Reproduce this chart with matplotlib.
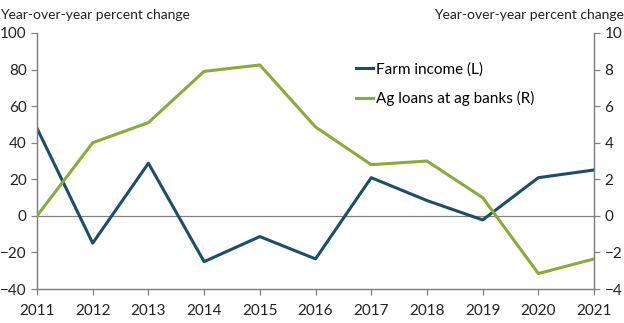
import matplotlib.pyplot as plt

years = [2011, 2012, 2013, 2014, 2015, 2016, 2017, 2018, 2019, 2020, 2021]
farm_income = [47.9, -14.9, 28.8, -25.0, -11.3, -23.5, 20.9, 8.4, -2.2, 20.9, 25.1]
ag_loans = [0.0, 4.0, 5.1, 7.9, 8.25, 4.86, 2.8, 3.0, 1.0, -3.15, -2.35]

left_ticks = [-40, -20, 0, 20, 40, 60, 80, 100]
right_ticks = [-4, -2, 0, 2, 4, 6, 8, 10]

BLUE = "#1d4e68"
GREEN = "#8aab3c"
GRAY = "#808080"

plt.rcParams["font.family"] = ["Lato", "DejaVu Sans"]
plt.rcParams["font.size"] = 10.5

fig = plt.figure(figsize=(6.24, 3.23), dpi=100)
ax = fig.add_axes([0.0593, 0.105, 0.8927, 0.793])
ax2 = ax.twinx()

ax.axhline(0, color=GRAY, lw=0.9, zorder=1)
l1, = ax.plot(years, farm_income, color=BLUE, lw=2.2, label="Farm income (L)", zorder=3)
l2, = ax2.plot(years, ag_loans, color=GREEN, lw=2.2, label="Ag loans at ag banks (R)", zorder=3)

ax.set_xlim(2011, 2021)
ax.set_ylim(-40, 100)
ax2.set_ylim(-4, 10)
ax.set_xticks(years)
ax.set_yticks(left_ticks)
ax2.set_yticks(right_ticks)

for a in (ax, ax2):
    a.spines["top"].set_visible(False)
    for s in ("left", "right", "bottom"):
        a.spines[s].set_color(GRAY)
        a.spines[s].set_linewidth(0.9)
    a.tick_params(color=GRAY, length=4, width=0.9, labelcolor="#222222", labelsize=11)
ax.tick_params(axis="x", pad=7)

# axis titles sit above each y axis
fig.text(0.0, 0.955, "Year-over-year percent change", ha="left", va="center",
         color="#222222", fontsize=10)
fig.text(1.0, 0.955, "Year-over-year percent change", ha="right", va="center",
         color="#222222", fontsize=10)

ax.legend(handles=[l1, l2], loc="upper left", bbox_to_anchor=(0.562, 0.91), frameon=False,
          handlelength=1.1, handletextpad=0.2, labelspacing=0.95, borderaxespad=0,
          fontsize=11)

fig.savefig("out.png", dpi=100)
